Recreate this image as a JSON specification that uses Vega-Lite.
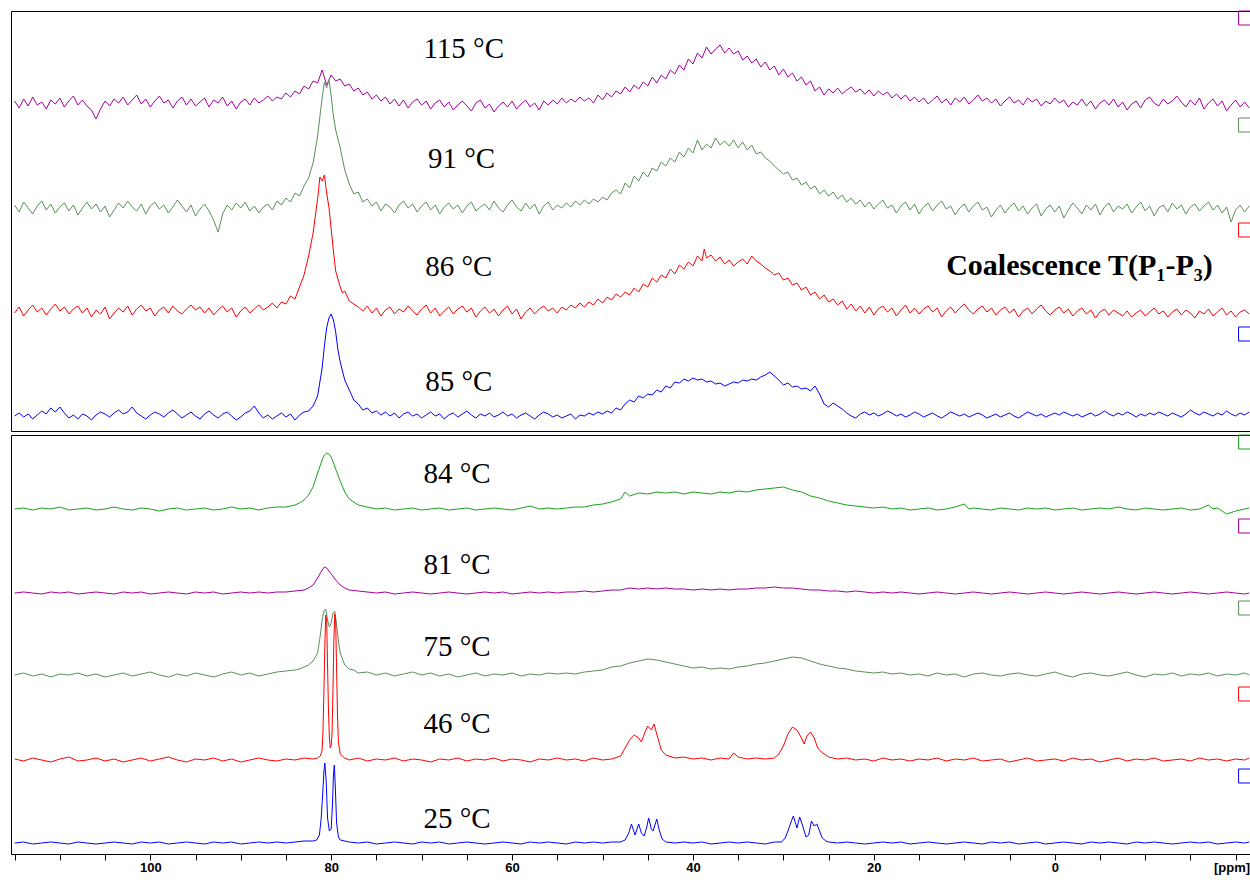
{
"$schema": "https://vega.github.io/schema/vega-lite/v6.json",
"padding": {"left": 10, "top": 8, "right": 0, "bottom": 4},
"spacing": 0,
"background": "white",
"config": {"view": {"stroke": "black", "strokeWidth": 1}},
"datasets": {
"labels": [
{"s":"115","x":69.8,"y":45,"label":"115 °C"},
{"s":"91","x":69.3,"y":40,"label":"91 °C"},
{"s":"86","x":69.6,"y":35,"label":"86 °C"},
{"s":"85","x":69.6,"y":25,"label":"85 °C"},
{"s":"84","x":69.8,"y":26,"label":"84 °C"},
{"s":"81","x":69.8,"y":19,"label":"81 °C"},
{"s":"75","x":69.8,"y":19,"label":"75 °C"},
{"s":"46","x":69.8,"y":27,"label":"46 °C"},
{"s":"25","x":69.8,"y":15,"label":"25 °C"}
],
"notes": [
{"s":"86","x":12.0,"y":36,"label":"Coalescence T(P₁-P₃)"}
],
"boxes": [
{"s":"115","x":-21.1,"y":85},{"s":"91","x":-21.1,"y":83},{"s":"86","x":-21.1,"y":81},{"s":"85","x":-21.1,"y":82},
{"s":"84","x":-21.1,"y":67},{"s":"81","x":-21.1,"y":67},{"s":"75","x":-21.1,"y":67},{"s":"46","x":-21.1,"y":66},{"s":"25","x":-21.1,"y":67}
],
"s115": [
{"x":115,"y":2},{"x":114.5,"y":-5},{"x":114,"y":4},{"x":113.5,"y":-3},{"x":113,"y":6},{"x":112.5,"y":-2},{"x":112,"y":1},{"x":111.5,"y":-6},{"x":111,"y":3},{"x":110.5,"y":-1},
{"x":110,"y":5},{"x":109.5,"y":-4},{"x":109,"y":2},{"x":108.5,"y":7},{"x":108,"y":-2},{"x":107.5,"y":3},{"x":107,"y":-3},{"x":106.5,"y":-7},{"x":106,"y":-16},{"x":105.5,"y":-6},
{"x":105,"y":2},{"x":104.5,"y":-3},{"x":104,"y":4},{"x":103.5,"y":0},{"x":103,"y":6},{"x":102.5,"y":-2},{"x":102,"y":3},{"x":101.5,"y":8},{"x":101,"y":-1},{"x":100.5,"y":4},
{"x":100,"y":-4},{"x":99.5,"y":2},{"x":99,"y":7},{"x":98.5,"y":0},{"x":98,"y":3},{"x":97.5,"y":-5},{"x":97,"y":2},{"x":96.5,"y":6},{"x":96,"y":-2},{"x":95.5,"y":4},
{"x":95,"y":-3},{"x":94.5,"y":1},{"x":94,"y":5},{"x":93.5,"y":-4},{"x":93,"y":3},{"x":92.5,"y":0},{"x":92,"y":6},{"x":91.5,"y":-3},{"x":91,"y":2},{"x":90.5,"y":-6},
{"x":90,"y":1},{"x":89.5,"y":4},{"x":89,"y":-2},{"x":88.5,"y":5},{"x":88,"y":0},{"x":87.5,"y":3},{"x":87,"y":7},{"x":86.5,"y":2},{"x":86,"y":6},{"x":85.5,"y":4},
{"x":85,"y":10},{"x":84.5,"y":6},{"x":84,"y":12},{"x":83.5,"y":9},{"x":83,"y":17},{"x":82.5,"y":14},{"x":82,"y":22},{"x":81.5,"y":20},{"x":81,"y":33},{"x":80.5,"y":18},
{"x":80,"y":28},{"x":79.5,"y":22},{"x":79,"y":24},{"x":78.5,"y":17},{"x":78,"y":19},{"x":77.5,"y":12},{"x":77,"y":15},{"x":76.5,"y":8},{"x":76,"y":11},{"x":75.5,"y":4},
{"x":75,"y":8},{"x":74.5,"y":2},{"x":74,"y":6},{"x":73.5,"y":-1},{"x":73,"y":4},{"x":72.5,"y":-3},{"x":72,"y":3},{"x":71.5,"y":-5},{"x":71,"y":1},{"x":70.5,"y":4},
{"x":70,"y":-2},{"x":69.5,"y":2},{"x":69,"y":-6},{"x":68.5,"y":0},{"x":68,"y":3},{"x":67.5,"y":-4},{"x":67,"y":1},{"x":66.5,"y":-7},{"x":66,"y":-2},{"x":65.5,"y":2},
{"x":65,"y":-3},{"x":64.5,"y":-8},{"x":64,"y":0},{"x":63.5,"y":3},{"x":63,"y":-5},{"x":62.5,"y":-1},{"x":62,"y":-9},{"x":61.5,"y":-3},{"x":61,"y":1},{"x":60.5,"y":-4},
{"x":60,"y":2},{"x":59.5,"y":-6},{"x":59,"y":-1},{"x":58.5,"y":3},{"x":58,"y":-4},{"x":57.5,"y":0},{"x":57,"y":-7},{"x":56.5,"y":2},{"x":56,"y":-2},{"x":55.5,"y":3},
{"x":55,"y":-1},{"x":54.5,"y":5},{"x":54,"y":0},{"x":53.5,"y":4},{"x":53,"y":1},{"x":52.5,"y":6},{"x":52,"y":2},{"x":51.5,"y":5},{"x":51,"y":0},{"x":50.5,"y":8},
{"x":50,"y":3},{"x":49.5,"y":10},{"x":49,"y":6},{"x":48.5,"y":12},{"x":48,"y":9},{"x":47.5,"y":16},{"x":47,"y":11},{"x":46.5,"y":18},{"x":46,"y":14},{"x":45.5,"y":21},
{"x":45,"y":17},{"x":44.5,"y":26},{"x":44,"y":20},{"x":43.5,"y":28},{"x":43,"y":24},{"x":42.5,"y":33},{"x":42,"y":29},{"x":41.5,"y":38},{"x":41,"y":33},{"x":40.5,"y":44},
{"x":40,"y":39},{"x":39.5,"y":50},{"x":39,"y":45},{"x":38.5,"y":56},{"x":38,"y":49},{"x":37.5,"y":54},{"x":37,"y":58},{"x":36.5,"y":50},{"x":36,"y":55},{"x":35.5,"y":49},
{"x":35,"y":52},{"x":34.5,"y":43},{"x":34,"y":47},{"x":33.5,"y":40},{"x":33,"y":44},{"x":32.5,"y":36},{"x":32,"y":41},{"x":31.5,"y":33},{"x":31,"y":37},{"x":30.5,"y":28},
{"x":30,"y":34},{"x":29.5,"y":26},{"x":29,"y":30},{"x":28.5,"y":22},{"x":28,"y":26},{"x":27.5,"y":18},{"x":27,"y":22},{"x":26.5,"y":12},{"x":26,"y":16},{"x":25.5,"y":8},
{"x":25,"y":14},{"x":24.5,"y":10},{"x":24,"y":15},{"x":23.5,"y":9},{"x":23,"y":13},{"x":22.5,"y":16},{"x":22,"y":11},{"x":21.5,"y":14},{"x":21,"y":9},{"x":20.5,"y":13},
{"x":20,"y":7},{"x":19.5,"y":12},{"x":19,"y":8},{"x":18.5,"y":11},{"x":18,"y":5},{"x":17.5,"y":9},{"x":17,"y":4},{"x":16.5,"y":8},{"x":16,"y":2},{"x":15.5,"y":6},
{"x":15,"y":1},{"x":14.5,"y":5},{"x":14,"y":-1},{"x":13.5,"y":3},{"x":13,"y":7},{"x":12.5,"y":0},{"x":12,"y":4},{"x":11.5,"y":-2},{"x":11,"y":5},{"x":10.5,"y":1},
{"x":10,"y":6},{"x":9.5,"y":-1},{"x":9,"y":3},{"x":8.5,"y":8},{"x":8,"y":2},{"x":7.5,"y":5},{"x":7,"y":0},{"x":6.5,"y":4},{"x":6,"y":-3},{"x":5.5,"y":2},
{"x":5,"y":6},{"x":4.5,"y":0},{"x":4,"y":3},{"x":3.5,"y":-2},{"x":3,"y":5},{"x":2.5,"y":1},{"x":2,"y":4},{"x":1.5,"y":-3},{"x":1,"y":2},{"x":0.5,"y":-1},
{"x":0,"y":5},{"x":-0.5,"y":0},{"x":-1,"y":3},{"x":-1.5,"y":-4},{"x":-2,"y":1},{"x":-2.5,"y":-2},{"x":-3,"y":4},{"x":-3.5,"y":-3},{"x":-4,"y":2},{"x":-4.5,"y":-6},
{"x":-5,"y":0},{"x":-5.5,"y":3},{"x":-6,"y":-2},{"x":-6.5,"y":4},{"x":-7,"y":-4},{"x":-7.5,"y":1},{"x":-8,"y":-7},{"x":-8.5,"y":-1},{"x":-9,"y":2},{"x":-9.5,"y":-5},
{"x":-10,"y":3},{"x":-10.5,"y":6},{"x":-11,"y":0},{"x":-11.5,"y":-3},{"x":-12,"y":4},{"x":-12.5,"y":-1},{"x":-13,"y":2},{"x":-13.5,"y":7},{"x":-14,"y":1},{"x":-14.5,"y":-4},
{"x":-15,"y":3},{"x":-15.5,"y":-2},{"x":-16,"y":5},{"x":-16.5,"y":-6},{"x":-17,"y":0},{"x":-17.5,"y":4},{"x":-18,"y":-3},{"x":-18.5,"y":2},{"x":-19,"y":-8},{"x":-19.5,"y":-2},
{"x":-20,"y":3},{"x":-20.5,"y":-4},{"x":-21,"y":1},{"x":-21.5,"y":-5}
],
"s91": [
{"x":115,"y":3},{"x":114.5,"y":-4},{"x":114,"y":6},{"x":113.5,"y":0},{"x":113,"y":-6},{"x":112.5,"y":2},{"x":112,"y":7},{"x":111.5,"y":-2},{"x":111,"y":4},{"x":110.5,"y":-5},
{"x":110,"y":1},{"x":109.5,"y":5},{"x":109,"y":-3},{"x":108.5,"y":3},{"x":108,"y":-7},{"x":107.5,"y":0},{"x":107,"y":6},{"x":106.5,"y":-1},{"x":106,"y":4},{"x":105.5,"y":-4},
{"x":105,"y":2},{"x":104.5,"y":-9},{"x":104,"y":-2},{"x":103.5,"y":5},{"x":103,"y":0},{"x":102.5,"y":7},{"x":102,"y":1},{"x":101.5,"y":-3},{"x":101,"y":4},{"x":100.5,"y":-6},
{"x":100,"y":2},{"x":99.5,"y":6},{"x":99,"y":-1},{"x":98.5,"y":3},{"x":98,"y":-5},{"x":97.5,"y":1},{"x":97,"y":8},{"x":96.5,"y":2},{"x":96,"y":-4},{"x":95.5,"y":3},
{"x":95,"y":-8},{"x":94.5,"y":-1},{"x":94,"y":4},{"x":93.5,"y":-3},{"x":93,"y":-12},{"x":92.5,"y":-24},{"x":92,"y":-6},{"x":91.5,"y":3},{"x":91,"y":-2},{"x":90.5,"y":5},
{"x":90,"y":0},{"x":89.5,"y":6},{"x":89,"y":-3},{"x":88.5,"y":2},{"x":88,"y":-5},{"x":87.5,"y":1},{"x":87,"y":4},{"x":86.5,"y":-2},{"x":86,"y":7},{"x":85.5,"y":3},
{"x":85,"y":10},{"x":84.5,"y":6},{"x":84,"y":15},{"x":83.5,"y":12},{"x":83,"y":22},{"x":82.5,"y":30},{"x":82,"y":45},{"x":81.5,"y":72},{"x":81,"y":110},{"x":80.75,"y":126},
{"x":80.5,"y":120},{"x":80.25,"y":128},{"x":80,"y":112},{"x":79.75,"y":92},{"x":79.5,"y":78},{"x":79,"y":60},{"x":78.5,"y":38},{"x":78,"y":24},{"x":77.5,"y":14},{"x":77,"y":16},
{"x":76.5,"y":6},{"x":76,"y":9},{"x":75.5,"y":2},{"x":75,"y":6},{"x":74.5,"y":-3},{"x":74,"y":4},{"x":73.5,"y":1},{"x":73,"y":-5},{"x":72.5,"y":3},{"x":72,"y":7},
{"x":71.5,"y":0},{"x":71,"y":4},{"x":70.5,"y":-4},{"x":70,"y":2},{"x":69.5,"y":6},{"x":69,"y":-2},{"x":68.5,"y":3},{"x":68,"y":-6},{"x":67.5,"y":1},{"x":67,"y":5},
{"x":66.5,"y":-1},{"x":66,"y":3},{"x":65.5,"y":-5},{"x":65,"y":2},{"x":64.5,"y":6},{"x":64,"y":-3},{"x":63.5,"y":1},{"x":63,"y":4},{"x":62.5,"y":-2},{"x":62,"y":7},
{"x":61.5,"y":0},{"x":61,"y":-4},{"x":60.5,"y":3},{"x":60,"y":8},{"x":59.5,"y":1},{"x":59,"y":-3},{"x":58.5,"y":5},{"x":58,"y":-1},{"x":57.5,"y":4},{"x":57,"y":-6},
{"x":56.5,"y":2},{"x":56,"y":6},{"x":55.5,"y":-2},{"x":55,"y":3},{"x":54.5,"y":0},{"x":54,"y":5},{"x":53.5,"y":1},{"x":53,"y":7},{"x":52.5,"y":3},{"x":52,"y":8},
{"x":51.5,"y":4},{"x":51,"y":9},{"x":50.5,"y":6},{"x":50,"y":11},{"x":49.5,"y":8},{"x":49,"y":15},{"x":48.5,"y":18},{"x":48,"y":14},{"x":47.5,"y":25},{"x":47,"y":20},
{"x":46.5,"y":32},{"x":46,"y":27},{"x":45.5,"y":36},{"x":45,"y":31},{"x":44.5,"y":40},{"x":44,"y":37},{"x":43.5,"y":46},{"x":43,"y":42},{"x":42.5,"y":50},{"x":42,"y":46},
{"x":41.5,"y":56},{"x":41,"y":51},{"x":40.5,"y":60},{"x":40,"y":55},{"x":39.5,"y":68},{"x":39,"y":58},{"x":38.5,"y":64},{"x":38,"y":60},{"x":37.5,"y":70},{"x":37,"y":63},
{"x":36.5,"y":67},{"x":36,"y":62},{"x":35.5,"y":68},{"x":35,"y":60},{"x":34.5,"y":66},{"x":34,"y":58},{"x":33.5,"y":63},{"x":33,"y":54},{"x":32.5,"y":56},{"x":32,"y":50},
{"x":31.5,"y":47},{"x":31,"y":42},{"x":30.5,"y":38},{"x":30,"y":34},{"x":29.5,"y":36},{"x":29,"y":28},{"x":28.5,"y":30},{"x":28,"y":23},{"x":27.5,"y":26},{"x":27,"y":19},
{"x":26.5,"y":22},{"x":26,"y":14},{"x":25.5,"y":18},{"x":25,"y":12},{"x":24.5,"y":16},{"x":24,"y":9},{"x":23.5,"y":13},{"x":23,"y":6},{"x":22.5,"y":10},{"x":22,"y":4},
{"x":21.5,"y":8},{"x":21,"y":1},{"x":20.5,"y":6},{"x":20,"y":-1},{"x":19.5,"y":4},{"x":19,"y":8},{"x":18.5,"y":0},{"x":18,"y":3},{"x":17.5,"y":-5},{"x":17,"y":2},
{"x":16.5,"y":6},{"x":16,"y":-2},{"x":15.5,"y":4},{"x":15,"y":-6},{"x":14.5,"y":1},{"x":14,"y":5},{"x":13.5,"y":-3},{"x":13,"y":3},{"x":12.5,"y":7},{"x":12,"y":-1},
{"x":11.5,"y":2},{"x":11,"y":-7},{"x":10.5,"y":0},{"x":10,"y":4},{"x":9.5,"y":-4},{"x":9,"y":2},{"x":8.5,"y":6},{"x":8,"y":-2},{"x":7.5,"y":1},{"x":7,"y":-9},
{"x":6.5,"y":-2},{"x":6,"y":3},{"x":5.5,"y":-5},{"x":5,"y":1},{"x":4.5,"y":5},{"x":4,"y":-3},{"x":3.5,"y":2},{"x":3,"y":-6},{"x":2.5,"y":0},{"x":2,"y":4},
{"x":1.5,"y":-8},{"x":1,"y":-1},{"x":0.5,"y":3},{"x":0,"y":-4},{"x":-0.5,"y":2},{"x":-1,"y":-10},{"x":-1.5,"y":-2},{"x":-2,"y":5},{"x":-2.5,"y":0},{"x":-3,"y":-6},
{"x":-3.5,"y":3},{"x":-4,"y":-2},{"x":-4.5,"y":4},{"x":-5,"y":-7},{"x":-5.5,"y":1},{"x":-6,"y":5},{"x":-6.5,"y":-4},{"x":-7,"y":2},{"x":-7.5,"y":-1},{"x":-8,"y":4},
{"x":-8.5,"y":-5},{"x":-9,"y":1},{"x":-9.5,"y":6},{"x":-10,"y":-3},{"x":-10.5,"y":2},{"x":-11,"y":-8},{"x":-11.5,"y":0},{"x":-12,"y":3},{"x":-12.5,"y":-4},{"x":-13,"y":5},
{"x":-13.5,"y":-1},{"x":-14,"y":3},{"x":-14.5,"y":-6},{"x":-15,"y":1},{"x":-15.5,"y":4},{"x":-16,"y":-3},{"x":-16.5,"y":2},{"x":-17,"y":6},{"x":-17.5,"y":-2},{"x":-18,"y":3},
{"x":-18.5,"y":-5},{"x":-19,"y":1},{"x":-19.5,"y":-14},{"x":-20,"y":-2},{"x":-20.5,"y":3},{"x":-21,"y":-4},{"x":-21.5,"y":2}
],
"s86": [
{"x":115,"y":-2},{"x":114.5,"y":4},{"x":114,"y":-5},{"x":113.5,"y":1},{"x":113,"y":6},{"x":112.5,"y":-1},{"x":112,"y":3},{"x":111.5,"y":-4},{"x":111,"y":2},{"x":110.5,"y":7},
{"x":110,"y":0},{"x":109.5,"y":4},{"x":109,"y":-3},{"x":108.5,"y":2},{"x":108,"y":5},{"x":107.5,"y":-2},{"x":107,"y":3},{"x":106.5,"y":-6},{"x":106,"y":1},{"x":105.5,"y":-3},
{"x":105,"y":4},{"x":104.5,"y":-8},{"x":104,"y":-2},{"x":103.5,"y":3},{"x":103,"y":-1},{"x":102.5,"y":5},{"x":102,"y":-4},{"x":101.5,"y":2},{"x":101,"y":6},{"x":100.5,"y":0},
{"x":100,"y":3},{"x":99.5,"y":-5},{"x":99,"y":1},{"x":98.5,"y":4},{"x":98,"y":-2},{"x":97.5,"y":5},{"x":97,"y":0},{"x":96.5,"y":-3},{"x":96,"y":2},{"x":95.5,"y":6},
{"x":95,"y":1},{"x":94.5,"y":4},{"x":94,"y":-2},{"x":93.5,"y":3},{"x":93,"y":-4},{"x":92.5,"y":1},{"x":92,"y":5},{"x":91.5,"y":-1},{"x":91,"y":3},{"x":90.5,"y":-6},
{"x":90,"y":0},{"x":89.5,"y":4},{"x":89,"y":-2},{"x":88.5,"y":2},{"x":88,"y":6},{"x":87.5,"y":1},{"x":87,"y":4},{"x":86.5,"y":8},{"x":86,"y":3},{"x":85.5,"y":9},
{"x":85,"y":7},{"x":84.5,"y":15},{"x":84,"y":12},{"x":83.5,"y":24},{"x":83,"y":36},{"x":82.5,"y":55},{"x":82,"y":78},{"x":81.5,"y":112},{"x":81.25,"y":134},{"x":81,"y":130},
{"x":80.75,"y":136},{"x":80.5,"y":118},{"x":80.25,"y":104},{"x":80,"y":82},{"x":79.75,"y":60},{"x":79.5,"y":40},{"x":79,"y":24},{"x":78.75,"y":18},{"x":78.5,"y":20},{"x":78,"y":10},
{"x":77.5,"y":7},{"x":77,"y":4},{"x":76.5,"y":0},{"x":76,"y":5},{"x":75.5,"y":-2},{"x":75,"y":3},{"x":74.5,"y":-5},{"x":74,"y":1},{"x":73.5,"y":4},{"x":73,"y":-3},
{"x":72.5,"y":2},{"x":72,"y":-1},{"x":71.5,"y":5},{"x":71,"y":0},{"x":70.5,"y":-4},{"x":70,"y":2},{"x":69.5,"y":6},{"x":69,"y":-2},{"x":68.5,"y":3},{"x":68,"y":-5},
{"x":67.5,"y":0},{"x":67,"y":4},{"x":66.5,"y":-3},{"x":66,"y":2},{"x":65.5,"y":5},{"x":65,"y":-1},{"x":64.5,"y":3},{"x":64,"y":-6},{"x":63.5,"y":0},{"x":63,"y":4},
{"x":62.5,"y":-2},{"x":62,"y":2},{"x":61.5,"y":-5},{"x":61,"y":1},{"x":60.5,"y":5},{"x":60,"y":-3},{"x":59.5,"y":2},{"x":59,"y":-8},{"x":58.5,"y":-1},{"x":58,"y":3},
{"x":57.5,"y":-3},{"x":57,"y":2},{"x":56.5,"y":5},{"x":56,"y":0},{"x":55.5,"y":3},{"x":55,"y":-2},{"x":54.5,"y":4},{"x":54,"y":1},{"x":53.5,"y":6},{"x":53,"y":3},
{"x":52.5,"y":8},{"x":52,"y":4},{"x":51.5,"y":9},{"x":51,"y":6},{"x":50.5,"y":12},{"x":50,"y":8},{"x":49.5,"y":14},{"x":49,"y":11},{"x":48.5,"y":17},{"x":48,"y":14},
{"x":47.5,"y":19},{"x":47,"y":16},{"x":46.5,"y":23},{"x":46,"y":19},{"x":45.5,"y":27},{"x":45,"y":24},{"x":44.5,"y":33},{"x":44,"y":29},{"x":43.5,"y":36},{"x":43,"y":33},
{"x":42.5,"y":42},{"x":42,"y":37},{"x":41.5,"y":46},{"x":41,"y":42},{"x":40.5,"y":49},{"x":40,"y":45},{"x":39.5,"y":55},{"x":39,"y":50},{"x":38.75,"y":62},{"x":38.5,"y":53},
{"x":38,"y":56},{"x":37.5,"y":50},{"x":37,"y":54},{"x":36.5,"y":47},{"x":36,"y":51},{"x":35.5,"y":45},{"x":35,"y":49},{"x":34.5,"y":52},{"x":34,"y":47},{"x":33.5,"y":55},
{"x":33,"y":50},{"x":32.5,"y":47},{"x":32,"y":43},{"x":31.5,"y":40},{"x":31,"y":36},{"x":30.5,"y":38},{"x":30,"y":31},{"x":29.5,"y":33},{"x":29,"y":26},{"x":28.5,"y":28},
{"x":28,"y":21},{"x":27.5,"y":24},{"x":27,"y":16},{"x":26.5,"y":19},{"x":26,"y":12},{"x":25.5,"y":16},{"x":25,"y":9},{"x":24.5,"y":12},{"x":24,"y":6},{"x":23.5,"y":10},
{"x":23,"y":2},{"x":22.5,"y":7},{"x":22,"y":0},{"x":21.5,"y":5},{"x":21,"y":-2},{"x":20.5,"y":4},{"x":20,"y":-4},{"x":19.5,"y":2},{"x":19,"y":5},{"x":18.5,"y":-1},
{"x":18,"y":3},{"x":17.5,"y":-5},{"x":17,"y":1},{"x":16.5,"y":6},{"x":16,"y":-2},{"x":15.5,"y":3},{"x":15,"y":-3},{"x":14.5,"y":2},{"x":14,"y":5},{"x":13.5,"y":-1},
{"x":13,"y":3},{"x":12.5,"y":-6},{"x":12,"y":0},{"x":11.5,"y":4},{"x":11,"y":-2},{"x":10.5,"y":3},{"x":10,"y":7},{"x":9.5,"y":1},{"x":9,"y":-3},{"x":8.5,"y":2},
{"x":8,"y":5},{"x":7.5,"y":-1},{"x":7,"y":3},{"x":6.5,"y":-4},{"x":6,"y":1},{"x":5.5,"y":4},{"x":5,"y":-2},{"x":4.5,"y":2},{"x":4,"y":-6},{"x":3.5,"y":0},
{"x":3,"y":3},{"x":2.5,"y":-3},{"x":2,"y":2},{"x":1.5,"y":6},{"x":1,"y":0},{"x":0.5,"y":-4},{"x":0,"y":1},{"x":-0.5,"y":4},{"x":-1,"y":-2},{"x":-1.5,"y":2},
{"x":-2,"y":-5},{"x":-2.5,"y":0},{"x":-3,"y":3},{"x":-3.5,"y":-3},{"x":-4,"y":1},{"x":-4.5,"y":-7},{"x":-5,"y":-1},{"x":-5.5,"y":2},{"x":-6,"y":-4},{"x":-6.5,"y":1},
{"x":-7,"y":-2},{"x":-7.5,"y":-5},{"x":-8,"y":0},{"x":-8.5,"y":-6},{"x":-9,"y":-2},{"x":-9.5,"y":1},{"x":-10,"y":-5},{"x":-10.5,"y":-1},{"x":-11,"y":3},{"x":-11.5,"y":-3},
{"x":-12,"y":0},{"x":-12.5,"y":-6},{"x":-13,"y":-1},{"x":-13.5,"y":2},{"x":-14,"y":-4},{"x":-14.5,"y":1},{"x":-15,"y":-2},{"x":-15.5,"y":-7},{"x":-16,"y":0},{"x":-16.5,"y":-3},
{"x":-17,"y":2},{"x":-17.5,"y":-5},{"x":-18,"y":-1},{"x":-18.5,"y":3},{"x":-19,"y":-4},{"x":-19.5,"y":0},{"x":-20,"y":-6},{"x":-20.5,"y":-1},{"x":-21,"y":1},{"x":-21.5,"y":-3}
],
"s85": [
{"x":115,"y":0},{"x":114.5,"y":3},{"x":114,"y":-1},{"x":113.5,"y":2},{"x":113,"y":-3},{"x":112.5,"y":1},{"x":112,"y":5},{"x":111.5,"y":2},{"x":111,"y":8},{"x":110.5,"y":4},
{"x":110,"y":9},{"x":109.5,"y":3},{"x":109,"y":-2},{"x":108.5,"y":1},{"x":108,"y":-3},{"x":107.5,"y":2},{"x":107,"y":0},{"x":106.5,"y":-4},{"x":106,"y":1},{"x":105.5,"y":4},
{"x":105,"y":2},{"x":104.5,"y":-1},{"x":104,"y":3},{"x":103.5,"y":6},{"x":103,"y":2},{"x":102.5,"y":4},{"x":102,"y":9},{"x":101.5,"y":3},{"x":101,"y":0},{"x":100.5,"y":-3},
{"x":100,"y":1},{"x":99.5,"y":4},{"x":99,"y":2},{"x":98.5,"y":-1},{"x":98,"y":3},{"x":97.5,"y":6},{"x":97,"y":2},{"x":96.5,"y":-2},{"x":96,"y":1},{"x":95.5,"y":4},
{"x":95,"y":0},{"x":94.5,"y":-3},{"x":94,"y":2},{"x":93.5,"y":5},{"x":93,"y":1},{"x":92.5,"y":-2},{"x":92,"y":2},{"x":91.5,"y":4},{"x":91,"y":0},{"x":90.5,"y":-4},
{"x":90,"y":-1},{"x":89.5,"y":3},{"x":89,"y":5},{"x":88.5,"y":10},{"x":88,"y":3},{"x":87.5,"y":-2},{"x":87,"y":1},{"x":86.5,"y":-3},{"x":86,"y":0},{"x":85.5,"y":3},
{"x":85,"y":-1},{"x":84.5,"y":2},{"x":84,"y":-4},{"x":83.5,"y":1},{"x":83,"y":4},{"x":82.5,"y":5},{"x":82,"y":10},{"x":81.5,"y":20},{"x":81,"y":48},{"x":80.75,"y":70},
{"x":80.5,"y":88},{"x":80.25,"y":98},{"x":80,"y":102},{"x":79.75,"y":96},{"x":79.5,"y":84},{"x":79.25,"y":66},{"x":79,"y":54},{"x":78.5,"y":36},{"x":78,"y":26},{"x":77.5,"y":16},
{"x":77,"y":12},{"x":76.5,"y":6},{"x":76,"y":8},{"x":75.5,"y":3},{"x":75,"y":5},{"x":74.5,"y":1},{"x":74,"y":4},{"x":73.5,"y":0},{"x":73,"y":3},{"x":72.5,"y":-2},
{"x":72,"y":2},{"x":71.5,"y":4},{"x":71,"y":0},{"x":70.5,"y":2},{"x":70,"y":-2},{"x":69.5,"y":1},{"x":69,"y":4},{"x":68.5,"y":0},{"x":68,"y":2},{"x":67.5,"y":-3},
{"x":67,"y":1},{"x":66.5,"y":3},{"x":66,"y":-1},{"x":65.5,"y":2},{"x":65,"y":5},{"x":64.5,"y":1},{"x":64,"y":-2},{"x":63.5,"y":2},{"x":63,"y":0},{"x":62.5,"y":3},
{"x":62,"y":-1},{"x":61.5,"y":1},{"x":61,"y":4},{"x":60.5,"y":0},{"x":60,"y":2},{"x":59.5,"y":-2},{"x":59,"y":1},{"x":58.5,"y":3},{"x":58,"y":0},{"x":57.5,"y":-3},
{"x":57,"y":1},{"x":56.5,"y":4},{"x":56,"y":2},{"x":55.5,"y":-1},{"x":55,"y":1},{"x":54.5,"y":-2},{"x":54,"y":0},{"x":53.5,"y":2},{"x":53,"y":-3},{"x":52.5,"y":1},
{"x":52,"y":0},{"x":51.5,"y":3},{"x":51,"y":1},{"x":50.5,"y":4},{"x":50,"y":2},{"x":49.5,"y":5},{"x":49,"y":3},{"x":48.5,"y":8},{"x":48,"y":6},{"x":47.5,"y":12},
{"x":47,"y":16},{"x":46.5,"y":14},{"x":46,"y":20},{"x":45.5,"y":18},{"x":45,"y":22},{"x":44.5,"y":21},{"x":44,"y":26},{"x":43.5,"y":24},{"x":43,"y":30},{"x":42.5,"y":28},
{"x":42,"y":34},{"x":41.5,"y":33},{"x":41,"y":37},{"x":40.5,"y":35},{"x":40,"y":38},{"x":39.5,"y":36},{"x":39,"y":37},{"x":38.5,"y":34},{"x":38,"y":35},{"x":37.5,"y":32},
{"x":37,"y":33},{"x":36.5,"y":30},{"x":36,"y":32},{"x":35.5,"y":34},{"x":35,"y":33},{"x":34.5,"y":36},{"x":34,"y":35},{"x":33.5,"y":37},{"x":33,"y":36},{"x":32.5,"y":39},
{"x":32,"y":41},{"x":31.5,"y":44},{"x":31,"y":40},{"x":30.5,"y":36},{"x":30,"y":31},{"x":29.5,"y":33},{"x":29,"y":29},{"x":28.5,"y":30},{"x":28,"y":27},{"x":27.5,"y":28},
{"x":27,"y":25},{"x":26.5,"y":30},{"x":26,"y":22},{"x":25.5,"y":12},{"x":25,"y":9},{"x":24.5,"y":13},{"x":24,"y":10},{"x":23.5,"y":7},{"x":23,"y":3},{"x":22.5,"y":0},
{"x":22,"y":-2},{"x":21.5,"y":2},{"x":21,"y":4},{"x":20.5,"y":1},{"x":20,"y":3},{"x":19.5,"y":0},{"x":19,"y":2},{"x":18.5,"y":5},{"x":18,"y":3},{"x":17.5,"y":0},
{"x":17,"y":2},{"x":16.5,"y":-1},{"x":16,"y":1},{"x":15.5,"y":4},{"x":15,"y":2},{"x":14.5,"y":-1},{"x":14,"y":1},{"x":13.5,"y":3},{"x":13,"y":0},{"x":12.5,"y":-2},
{"x":12,"y":1},{"x":11.5,"y":4},{"x":11,"y":2},{"x":10.5,"y":0},{"x":10,"y":2},{"x":9.5,"y":-1},{"x":9,"y":1},{"x":8.5,"y":3},{"x":8,"y":1},{"x":7.5,"y":-2},
{"x":7,"y":0},{"x":6.5,"y":2},{"x":6,"y":-1},{"x":5.5,"y":1},{"x":5,"y":3},{"x":4.5,"y":0},{"x":4,"y":-2},{"x":3.5,"y":1},{"x":3,"y":4},{"x":2.5,"y":2},
{"x":2,"y":0},{"x":1.5,"y":2},{"x":1,"y":-1},{"x":0.5,"y":1},{"x":0,"y":3},{"x":-0.5,"y":1},{"x":-1,"y":4},{"x":-1.5,"y":2},{"x":-2,"y":0},{"x":-2.5,"y":2},
{"x":-3,"y":-1},{"x":-3.5,"y":1},{"x":-4,"y":3},{"x":-4.5,"y":0},{"x":-5,"y":2},{"x":-5.5,"y":5},{"x":-6,"y":2},{"x":-6.5,"y":0},{"x":-7,"y":3},{"x":-7.5,"y":1},
{"x":-8,"y":4},{"x":-8.5,"y":2},{"x":-9,"y":-1},{"x":-9.5,"y":2},{"x":-10,"y":0},{"x":-10.5,"y":3},{"x":-11,"y":1},{"x":-11.5,"y":4},{"x":-12,"y":2},{"x":-12.5,"y":0},
{"x":-13,"y":3},{"x":-13.5,"y":1},{"x":-14,"y":-1},{"x":-14.5,"y":2},{"x":-15,"y":6},{"x":-15.5,"y":3},{"x":-16,"y":1},{"x":-16.5,"y":4},{"x":-17,"y":2},{"x":-17.5,"y":0},
{"x":-18,"y":3},{"x":-18.5,"y":1},{"x":-19,"y":5},{"x":-19.5,"y":2},{"x":-20,"y":0},{"x":-20.5,"y":3},{"x":-21,"y":1},{"x":-21.5,"y":4}
],
"s84": [
{"x":115,"y":0},{"x":114,"y":1},{"x":113,"y":-1},{"x":112,"y":1},{"x":111,"y":0},{"x":110,"y":2},{"x":109,"y":-1},{"x":108,"y":0},{"x":107,"y":1},{"x":106,"y":-1},
{"x":105,"y":0},{"x":104,"y":2},{"x":103,"y":0},{"x":102,"y":-1},{"x":101,"y":1},{"x":100,"y":0},{"x":99,"y":-2},{"x":98,"y":0},{"x":97,"y":1},{"x":96,"y":-1},
{"x":95,"y":0},{"x":94,"y":1},{"x":93,"y":-1},{"x":92,"y":0},{"x":91,"y":2},{"x":90,"y":0},{"x":89,"y":1},{"x":88,"y":-1},{"x":87,"y":1},{"x":86,"y":2},
{"x":85,"y":2},{"x":84,"y":4},{"x":83.5,"y":6},{"x":83,"y":9},{"x":82.5,"y":14},{"x":82,"y":22},{"x":81.5,"y":36},{"x":81,"y":49},{"x":80.75,"y":54},{"x":80.5,"y":56},
{"x":80.25,"y":55},{"x":80,"y":52},{"x":79.75,"y":46},{"x":79.5,"y":40},{"x":79,"y":28},{"x":78.5,"y":17},{"x":78,"y":10},{"x":77.5,"y":7},{"x":77,"y":4},{"x":76,"y":2},
{"x":75,"y":0},{"x":74,"y":1},{"x":73,"y":-1},{"x":72,"y":0},{"x":71,"y":1},{"x":70,"y":-1},{"x":69,"y":0},{"x":68,"y":1},{"x":67,"y":-1},{"x":66,"y":0},
{"x":65,"y":1},{"x":64,"y":-1},{"x":63,"y":0},{"x":62,"y":1},{"x":61,"y":0},{"x":60,"y":-1},{"x":59,"y":1},{"x":58,"y":3},{"x":57,"y":0},{"x":56,"y":1},
{"x":55,"y":0},{"x":54,"y":1},{"x":53,"y":2},{"x":52,"y":2},{"x":51,"y":4},{"x":50,"y":5},{"x":49,"y":7},{"x":48,"y":10},{"x":47.5,"y":17},{"x":47,"y":13},
{"x":46,"y":16},{"x":45,"y":15},{"x":44,"y":17},{"x":43,"y":16},{"x":42,"y":17},{"x":41,"y":15},{"x":40,"y":17},{"x":39,"y":16},{"x":38,"y":15},{"x":37,"y":17},
{"x":36,"y":16},{"x":35,"y":18},{"x":34,"y":17},{"x":33,"y":19},{"x":32,"y":20},{"x":31,"y":21},{"x":30,"y":22},{"x":29,"y":19},{"x":28,"y":17},{"x":27,"y":13},
{"x":26,"y":11},{"x":25,"y":8},{"x":24,"y":6},{"x":23,"y":4},{"x":22,"y":3},{"x":21,"y":2},{"x":20,"y":1},{"x":19,"y":2},{"x":18,"y":0},{"x":17,"y":1},
{"x":16,"y":-1},{"x":15,"y":0},{"x":14,"y":1},{"x":13,"y":-1},{"x":12,"y":0},{"x":11,"y":2},{"x":10,"y":5},{"x":9.5,"y":0},{"x":9,"y":1},{"x":8,"y":0},
{"x":7,"y":-1},{"x":6,"y":1},{"x":5,"y":0},{"x":4,"y":-1},{"x":3,"y":1},{"x":2,"y":0},{"x":1,"y":1},{"x":0,"y":-1},{"x":-1,"y":0},{"x":-2,"y":1},
{"x":-3,"y":-1},{"x":-4,"y":0},{"x":-5,"y":1},{"x":-6,"y":0},{"x":-7,"y":2},{"x":-8,"y":0},{"x":-9,"y":-1},{"x":-10,"y":1},{"x":-11,"y":0},{"x":-12,"y":-1},
{"x":-13,"y":0},{"x":-14,"y":1},{"x":-15,"y":-1},{"x":-16,"y":0},{"x":-17,"y":4},{"x":-17.5,"y":0},{"x":-18,"y":1},{"x":-19,"y":-5},{"x":-20,"y":-2},{"x":-21,"y":0},{"x":-21.5,"y":1}
],
"s81": [
{"x":115,"y":0},{"x":114,"y":1},{"x":113,"y":0},{"x":112,"y":-1},{"x":111,"y":1},{"x":110,"y":0},{"x":109,"y":1},{"x":108,"y":-1},{"x":107,"y":0},{"x":106,"y":1},
{"x":105,"y":0},{"x":104,"y":-1},{"x":103,"y":1},{"x":102,"y":0},{"x":101,"y":1},{"x":100,"y":-1},{"x":99,"y":0},{"x":98,"y":1},{"x":97,"y":0},{"x":96,"y":-1},
{"x":95,"y":1},{"x":94,"y":0},{"x":93,"y":1},{"x":92,"y":-1},{"x":91,"y":0},{"x":90,"y":1},{"x":89,"y":0},{"x":88,"y":1},{"x":87,"y":0},{"x":86,"y":1},
{"x":85,"y":1},{"x":84,"y":2},{"x":83,"y":3},{"x":82.5,"y":5},{"x":82,"y":8},{"x":81.5,"y":15},{"x":81,"y":23},{"x":80.75,"y":26},{"x":80.5,"y":25},{"x":80.25,"y":22},
{"x":80,"y":19},{"x":79.5,"y":13},{"x":79,"y":8},{"x":78.5,"y":5},{"x":78,"y":3},{"x":77,"y":2},{"x":76,"y":1},{"x":75,"y":0},{"x":74,"y":1},{"x":73,"y":-1},
{"x":72,"y":0},{"x":71,"y":1},{"x":70,"y":0},{"x":69,"y":-1},{"x":68,"y":0},{"x":67,"y":1},{"x":66,"y":0},{"x":65,"y":-1},{"x":64,"y":0},{"x":63,"y":1},
{"x":62,"y":0},{"x":61,"y":1},{"x":60,"y":-1},{"x":59,"y":0},{"x":58,"y":1},{"x":57,"y":0},{"x":56,"y":1},{"x":55,"y":0},{"x":54,"y":1},{"x":53,"y":1},
{"x":52,"y":2},{"x":51,"y":1},{"x":50,"y":2},{"x":49,"y":3},{"x":48,"y":3},{"x":47,"y":5},{"x":46,"y":4},{"x":45,"y":5},{"x":44,"y":4},{"x":43,"y":5},
{"x":42,"y":4},{"x":41,"y":4},{"x":40,"y":3},{"x":39,"y":4},{"x":38,"y":3},{"x":37,"y":4},{"x":36,"y":3},{"x":35,"y":4},{"x":34,"y":4},{"x":33,"y":5},
{"x":32,"y":5},{"x":31,"y":6},{"x":30,"y":5},{"x":29,"y":5},{"x":28,"y":4},{"x":27,"y":3},{"x":26,"y":3},{"x":25,"y":2},{"x":24,"y":2},{"x":23,"y":1},
{"x":22,"y":2},{"x":21,"y":1},{"x":20,"y":0},{"x":19,"y":1},{"x":18,"y":0},{"x":17,"y":1},{"x":16,"y":0},{"x":15,"y":-1},{"x":14,"y":0},{"x":13,"y":1},
{"x":12,"y":0},{"x":11,"y":-1},{"x":10,"y":0},{"x":9,"y":1},{"x":8,"y":0},{"x":7,"y":-1},{"x":6,"y":0},{"x":5,"y":1},{"x":4,"y":0},{"x":3,"y":-1},
{"x":2,"y":0},{"x":1,"y":1},{"x":0,"y":0},{"x":-1,"y":-1},{"x":-2,"y":0},{"x":-3,"y":1},{"x":-4,"y":0},{"x":-5,"y":-1},{"x":-6,"y":0},{"x":-7,"y":1},
{"x":-8,"y":0},{"x":-9,"y":-1},{"x":-10,"y":0},{"x":-11,"y":1},{"x":-12,"y":0},{"x":-13,"y":-1},{"x":-14,"y":0},{"x":-15,"y":1},{"x":-16,"y":0},{"x":-17,"y":-1},
{"x":-18,"y":0},{"x":-19,"y":1},{"x":-20,"y":0},{"x":-21,"y":-1},{"x":-21.5,"y":0}
],
"s75": [
{"x":115,"y":0},{"x":114,"y":2},{"x":113,"y":-1},{"x":112,"y":1},{"x":111,"y":-2},{"x":110,"y":1},{"x":109,"y":0},{"x":108,"y":2},{"x":107,"y":-1},{"x":106,"y":1},
{"x":105,"y":-2},{"x":104,"y":0},{"x":103,"y":2},{"x":102,"y":-1},{"x":101,"y":1},{"x":100,"y":3},{"x":99,"y":0},{"x":98,"y":-2},{"x":97,"y":1},{"x":96,"y":-1},
{"x":95,"y":2},{"x":94,"y":0},{"x":93,"y":-2},{"x":92,"y":1},{"x":91,"y":3},{"x":90,"y":0},{"x":89,"y":2},{"x":88,"y":-1},{"x":87,"y":1},{"x":86,"y":3},
{"x":85,"y":4},{"x":84,"y":5},{"x":83.5,"y":6},{"x":83,"y":8},{"x":82.5,"y":10},{"x":82,"y":14},{"x":81.5,"y":22},{"x":81.2,"y":40},{"x":81,"y":55},{"x":80.8,"y":64},
{"x":80.6,"y":66},{"x":80.4,"y":55},{"x":80.2,"y":48},{"x":80,"y":52},{"x":79.8,"y":62},{"x":79.6,"y":64},{"x":79.4,"y":50},{"x":79.2,"y":34},{"x":79,"y":22},{"x":78.5,"y":10},
{"x":78,"y":6},{"x":77.5,"y":5},{"x":77,"y":2},{"x":76,"y":3},{"x":75,"y":0},{"x":74,"y":2},{"x":73,"y":-1},{"x":72,"y":1},{"x":71,"y":3},{"x":70,"y":0},
{"x":69,"y":2},{"x":68,"y":-1},{"x":67,"y":1},{"x":66,"y":-2},{"x":65,"y":0},{"x":64,"y":2},{"x":63,"y":-1},{"x":62,"y":1},{"x":61,"y":0},{"x":60,"y":2},
{"x":59,"y":-1},{"x":58,"y":1},{"x":57,"y":0},{"x":56,"y":2},{"x":55,"y":1},{"x":54,"y":2},{"x":53,"y":1},{"x":52,"y":3},{"x":51,"y":4},{"x":50,"y":5},
{"x":49,"y":8},{"x":48,"y":9},{"x":47,"y":12},{"x":46,"y":14},{"x":45,"y":16},{"x":44,"y":15},{"x":43,"y":13},{"x":42,"y":11},{"x":41,"y":9},{"x":40,"y":7},
{"x":39,"y":8},{"x":38,"y":6},{"x":37,"y":7},{"x":36,"y":6},{"x":35,"y":8},{"x":34,"y":9},{"x":33,"y":11},{"x":32,"y":12},{"x":31,"y":14},{"x":30,"y":16},
{"x":29,"y":18},{"x":28,"y":17},{"x":27,"y":14},{"x":26,"y":11},{"x":25,"y":9},{"x":24,"y":7},{"x":23,"y":6},{"x":22,"y":4},{"x":21,"y":3},{"x":20,"y":2},
{"x":19,"y":3},{"x":18,"y":1},{"x":17,"y":2},{"x":16,"y":0},{"x":15,"y":1},{"x":14,"y":-1},{"x":13,"y":2},{"x":12,"y":0},{"x":11,"y":1},{"x":10,"y":-2},
{"x":9,"y":1},{"x":8,"y":2},{"x":7,"y":0},{"x":6,"y":-1},{"x":5,"y":1},{"x":4,"y":2},{"x":3,"y":0},{"x":2,"y":-1},{"x":1,"y":1},{"x":0,"y":3},
{"x":-1,"y":0},{"x":-2,"y":-2},{"x":-3,"y":1},{"x":-4,"y":2},{"x":-5,"y":0},{"x":-6,"y":-1},{"x":-7,"y":1},{"x":-8,"y":3},{"x":-9,"y":0},{"x":-10,"y":-2},
{"x":-11,"y":1},{"x":-12,"y":0},{"x":-13,"y":2},{"x":-14,"y":-1},{"x":-15,"y":1},{"x":-16,"y":0},{"x":-17,"y":2},{"x":-18,"y":-1},{"x":-19,"y":1},{"x":-20,"y":0},
{"x":-21,"y":2},{"x":-21.5,"y":0}
],
"s46": [
{"x":115,"y":1},{"x":114,"y":-1},{"x":113,"y":2},{"x":112,"y":0},{"x":111,"y":-2},{"x":110,"y":1},{"x":109,"y":3},{"x":108,"y":-1},{"x":107,"y":0},{"x":106,"y":2},
{"x":105,"y":-1},{"x":104,"y":1},{"x":103,"y":-2},{"x":102,"y":0},{"x":101,"y":2},{"x":100,"y":-1},{"x":99,"y":1},{"x":98,"y":3},{"x":97,"y":0},{"x":96,"y":-2},
{"x":95,"y":1},{"x":94,"y":0},{"x":93,"y":2},{"x":92,"y":-1},{"x":91,"y":1},{"x":90,"y":-2},{"x":89,"y":0},{"x":88,"y":2},{"x":87,"y":0},{"x":86,"y":-1},
{"x":85,"y":1},{"x":84,"y":0},{"x":83,"y":2},{"x":82,"y":1},{"x":81.5,"y":2},{"x":81.2,"y":4},{"x":81,"y":10},{"x":80.9,"y":30},{"x":80.8,"y":70},{"x":80.7,"y":115},
{"x":80.6,"y":145},{"x":80.5,"y":140},{"x":80.4,"y":95},{"x":80.3,"y":50},{"x":80.2,"y":22},{"x":80.1,"y":12},{"x":80,"y":14},{"x":79.9,"y":28},{"x":79.8,"y":70},{"x":79.7,"y":120},
{"x":79.6,"y":146},{"x":79.5,"y":138},{"x":79.4,"y":90},{"x":79.3,"y":45},{"x":79.2,"y":18},{"x":79,"y":6},{"x":78.5,"y":2},{"x":78,"y":0},{"x":77,"y":2},{"x":76,"y":-1},
{"x":75,"y":1},{"x":74,"y":0},{"x":73,"y":2},{"x":72,"y":-1},{"x":71,"y":1},{"x":70,"y":0},{"x":69,"y":-2},{"x":68,"y":1},{"x":67,"y":0},{"x":66,"y":2},
{"x":65,"y":-1},{"x":64,"y":1},{"x":63,"y":0},{"x":62,"y":2},{"x":61,"y":-1},{"x":60,"y":1},{"x":59,"y":0},{"x":58,"y":-2},{"x":57,"y":1},{"x":56,"y":0},
{"x":55,"y":2},{"x":54,"y":0},{"x":53,"y":1},{"x":52,"y":-1},{"x":51,"y":2},{"x":50,"y":0},{"x":49,"y":1},{"x":48,"y":4},{"x":47.5,"y":12},{"x":47,"y":20},
{"x":46.5,"y":25},{"x":46,"y":22},{"x":45.7,"y":18},{"x":45.3,"y":28},{"x":45,"y":34},{"x":44.6,"y":30},{"x":44.3,"y":36},{"x":44,"y":26},{"x":43.5,"y":10},{"x":43,"y":5},
{"x":42,"y":2},{"x":41,"y":3},{"x":40,"y":1},{"x":39,"y":2},{"x":38,"y":0},{"x":37,"y":2},{"x":36,"y":1},{"x":35.5,"y":7},{"x":35,"y":3},{"x":34,"y":1},
{"x":33,"y":2},{"x":32,"y":1},{"x":31,"y":2},{"x":30.5,"y":6},{"x":30,"y":14},{"x":29.5,"y":26},{"x":29,"y":33},{"x":28.5,"y":30},{"x":28,"y":22},{"x":27.7,"y":16},
{"x":27.4,"y":24},{"x":27,"y":28},{"x":26.6,"y":22},{"x":26.2,"y":12},{"x":25.8,"y":8},{"x":25,"y":3},{"x":24,"y":1},{"x":23,"y":2},{"x":22,"y":0},{"x":21,"y":1},
{"x":20,"y":-1},{"x":19,"y":2},{"x":18,"y":0},{"x":17,"y":1},{"x":16,"y":-1},{"x":15,"y":1},{"x":14,"y":0},{"x":13,"y":2},{"x":12,"y":-1},{"x":11,"y":1},
{"x":10,"y":0},{"x":9,"y":2},{"x":8,"y":-1},{"x":7,"y":0},{"x":6,"y":1},{"x":5,"y":-2},{"x":4,"y":0},{"x":3,"y":2},{"x":2,"y":-1},{"x":1,"y":0},
{"x":0,"y":1},{"x":-1,"y":-1},{"x":-2,"y":2},{"x":-3,"y":0},{"x":-4,"y":1},{"x":-5,"y":-2},{"x":-6,"y":0},{"x":-7,"y":2},{"x":-8,"y":-1},{"x":-9,"y":1},
{"x":-10,"y":0},{"x":-11,"y":2},{"x":-12,"y":-1},{"x":-13,"y":0},{"x":-14,"y":1},{"x":-15,"y":-1},{"x":-16,"y":2},{"x":-17,"y":0},{"x":-18,"y":1},{"x":-19,"y":-1},
{"x":-20,"y":1},{"x":-21,"y":0},{"x":-21.5,"y":2}
],
"s25": [
{"x":115,"y":0},{"x":114,"y":1},{"x":113,"y":-1},{"x":112,"y":0},{"x":111,"y":1},{"x":110,"y":0},{"x":109,"y":-1},{"x":108,"y":1},{"x":107,"y":0},{"x":106,"y":-1},
{"x":105,"y":0},{"x":104,"y":1},{"x":103,"y":0},{"x":102,"y":-1},{"x":101,"y":1},{"x":100,"y":0},{"x":99,"y":1},{"x":98,"y":-1},{"x":97,"y":0},{"x":96,"y":1},
{"x":95,"y":0},{"x":94,"y":-1},{"x":93,"y":1},{"x":92,"y":0},{"x":91,"y":1},{"x":90,"y":-1},{"x":89,"y":0},{"x":88,"y":1},{"x":87,"y":0},{"x":86,"y":1},
{"x":85,"y":0},{"x":84,"y":1},{"x":83,"y":2},{"x":82,"y":2},{"x":81.6,"y":3},{"x":81.3,"y":8},{"x":81.1,"y":25},{"x":80.9,"y":55},{"x":80.8,"y":72},{"x":80.7,"y":80},
{"x":80.55,"y":62},{"x":80.4,"y":25},{"x":80.2,"y":12},{"x":80,"y":14},{"x":79.85,"y":40},{"x":79.75,"y":68},{"x":79.65,"y":78},{"x":79.55,"y":58},{"x":79.4,"y":20},{"x":79.2,"y":6},
{"x":79,"y":3},{"x":78.5,"y":2},{"x":78,"y":1},{"x":77,"y":0},{"x":76,"y":1},{"x":75,"y":-1},{"x":74,"y":0},{"x":73,"y":1},{"x":72,"y":0},{"x":71,"y":-1},
{"x":70,"y":1},{"x":69,"y":0},{"x":68,"y":1},{"x":67,"y":-1},{"x":66,"y":0},{"x":65,"y":1},{"x":64,"y":0},{"x":63,"y":-1},{"x":62,"y":0},{"x":61,"y":1},
{"x":60,"y":0},{"x":59,"y":-1},{"x":58,"y":1},{"x":57,"y":0},{"x":56,"y":1},{"x":55,"y":0},{"x":54,"y":-1},{"x":53,"y":1},{"x":52,"y":0},{"x":51,"y":1},
{"x":50,"y":0},{"x":49,"y":1},{"x":48,"y":1},{"x":47.5,"y":3},{"x":47.1,"y":10},{"x":46.8,"y":19},{"x":46.4,"y":8},{"x":46.0,"y":19},{"x":45.7,"y":10},{"x":45.4,"y":7},
{"x":45.1,"y":16},{"x":44.9,"y":25},{"x":44.6,"y":14},{"x":44.4,"y":12},{"x":44.0,"y":24},{"x":43.7,"y":12},{"x":43.4,"y":4},{"x":43,"y":1},{"x":42,"y":0},{"x":41,"y":1},
{"x":40,"y":0},{"x":39,"y":1},{"x":38,"y":-1},{"x":37,"y":0},{"x":36,"y":1},{"x":35,"y":0},{"x":34,"y":1},{"x":33,"y":0},{"x":32,"y":-1},{"x":31,"y":1},
{"x":30.2,"y":1},{"x":29.8,"y":5},{"x":29.5,"y":12},{"x":29.2,"y":20},{"x":28.9,"y":27},{"x":28.5,"y":15},{"x":28.2,"y":26},{"x":27.9,"y":18},{"x":27.5,"y":6},{"x":27.2,"y":8},
{"x":26.9,"y":22},{"x":26.6,"y":17},{"x":26.3,"y":19},{"x":26.0,"y":12},{"x":25.7,"y":5},{"x":25.3,"y":2},{"x":25,"y":1},{"x":24,"y":0},{"x":23,"y":1},{"x":22,"y":0},
{"x":21,"y":-1},{"x":20,"y":0},{"x":19,"y":1},{"x":18,"y":0},{"x":17,"y":1},{"x":16,"y":-1},{"x":15,"y":0},{"x":14,"y":1},{"x":13,"y":0},{"x":12,"y":-1},
{"x":11,"y":0},{"x":10,"y":1},{"x":9,"y":0},{"x":8,"y":-1},{"x":7,"y":1},{"x":6,"y":0},{"x":5,"y":1},{"x":4,"y":-1},{"x":3,"y":0},{"x":2,"y":1},
{"x":1,"y":-1},{"x":0,"y":0},{"x":-1,"y":1},{"x":-2,"y":0},{"x":-3,"y":-1},{"x":-4,"y":1},{"x":-5,"y":0},{"x":-6,"y":1},{"x":-7,"y":0},{"x":-8,"y":-1},
{"x":-9,"y":1},{"x":-10,"y":0},{"x":-11,"y":1},{"x":-12,"y":0},{"x":-13,"y":-1},{"x":-14,"y":0},{"x":-15,"y":1},{"x":-16,"y":0},{"x":-17,"y":1},{"x":-18,"y":-1},
{"x":-19,"y":0},{"x":-20,"y":1},{"x":-21,"y":0},{"x":-21.5,"y":1}
]
},
"vconcat": [
{
"width": 1240, "height": 420,
"resolve": {"scale": {"y": "independent"}},
"layer": [
{"layer": [
{"data": {"name": "s115"}, "mark": {"type": "line", "color": "#A4009C", "strokeWidth": 1}, "encoding": {"x": {"field": "x", "type": "quantitative", "scale": {"domain": [115.4, -21.7], "nice": false, "zero": false}, "axis": null}, "y": {"field": "y", "type": "quantitative", "scale": {"domain": [-328, 92], "nice": false, "zero": false}, "axis": null}}},
{"data": {"name": "labels"}, "transform": [{"filter": "datum.s == '115'"}], "mark": {"type": "text", "font": "Liberation Serif", "fontSize": 29, "align": "left", "baseline": "alphabetic", "color": "black"}, "encoding": {"x": {"field": "x", "type": "quantitative"}, "y": {"field": "y", "type": "quantitative"}, "text": {"field": "label"}}},
{"data": {"name": "boxes"}, "transform": [{"filter": "datum.s == '115'"}], "mark": {"type": "point", "shape": "square", "filled": false, "size": 196, "color": "#A4009C", "strokeWidth": 1, "opacity": 1}, "encoding": {"x": {"field": "x", "type": "quantitative"}, "y": {"field": "y", "type": "quantitative"}}}
]},
{"layer": [
{"data": {"name": "s91"}, "mark": {"type": "line", "color": "#5A8F5A", "strokeWidth": 1}, "encoding": {"x": {"field": "x", "type": "quantitative", "scale": {"domain": [115.4, -21.7], "nice": false, "zero": false}, "axis": null}, "y": {"field": "y", "type": "quantitative", "scale": {"domain": [-223, 197], "nice": false, "zero": false}, "axis": null}}},
{"data": {"name": "labels"}, "transform": [{"filter": "datum.s == '91'"}], "mark": {"type": "text", "font": "Liberation Serif", "fontSize": 29, "align": "left", "baseline": "alphabetic", "color": "black"}, "encoding": {"x": {"field": "x", "type": "quantitative"}, "y": {"field": "y", "type": "quantitative"}, "text": {"field": "label"}}},
{"data": {"name": "boxes"}, "transform": [{"filter": "datum.s == '91'"}], "mark": {"type": "point", "shape": "square", "filled": false, "size": 196, "color": "#5A8F5A", "strokeWidth": 1, "opacity": 1}, "encoding": {"x": {"field": "x", "type": "quantitative"}, "y": {"field": "y", "type": "quantitative"}}}
]},
{"layer": [
{"data": {"name": "s86"}, "mark": {"type": "line", "color": "#FF0000", "strokeWidth": 1}, "encoding": {"x": {"field": "x", "type": "quantitative", "scale": {"domain": [115.4, -21.7], "nice": false, "zero": false}, "axis": null}, "y": {"field": "y", "type": "quantitative", "scale": {"domain": [-120, 300], "nice": false, "zero": false}, "axis": null}}},
{"data": {"name": "labels"}, "transform": [{"filter": "datum.s == '86'"}], "mark": {"type": "text", "font": "Liberation Serif", "fontSize": 29, "align": "left", "baseline": "alphabetic", "color": "black"}, "encoding": {"x": {"field": "x", "type": "quantitative"}, "y": {"field": "y", "type": "quantitative"}, "text": {"field": "label"}}},
{"data": {"name": "notes"}, "mark": {"type": "text", "font": "Liberation Serif", "fontSize": 30, "fontWeight": "bold", "align": "left", "baseline": "alphabetic", "color": "black"}, "encoding": {"x": {"field": "x", "type": "quantitative"}, "y": {"field": "y", "type": "quantitative"}, "text": {"field": "label"}}},
{"data": {"name": "boxes"}, "transform": [{"filter": "datum.s == '86'"}], "mark": {"type": "point", "shape": "square", "filled": false, "size": 196, "color": "#FF0000", "strokeWidth": 1, "opacity": 1}, "encoding": {"x": {"field": "x", "type": "quantitative"}, "y": {"field": "y", "type": "quantitative"}}}
]},
{"layer": [
{"data": {"name": "s85"}, "mark": {"type": "line", "color": "#0000FF", "strokeWidth": 1}, "encoding": {"x": {"field": "x", "type": "quantitative", "scale": {"domain": [115.4, -21.7], "nice": false, "zero": false}, "axis": null}, "y": {"field": "y", "type": "quantitative", "scale": {"domain": [-15, 405], "nice": false, "zero": false}, "axis": null}}},
{"data": {"name": "labels"}, "transform": [{"filter": "datum.s == '85'"}], "mark": {"type": "text", "font": "Liberation Serif", "fontSize": 29, "align": "left", "baseline": "alphabetic", "color": "black"}, "encoding": {"x": {"field": "x", "type": "quantitative"}, "y": {"field": "y", "type": "quantitative"}, "text": {"field": "label"}}},
{"data": {"name": "boxes"}, "transform": [{"filter": "datum.s == '85'"}], "mark": {"type": "point", "shape": "square", "filled": false, "size": 196, "color": "#0000FF", "strokeWidth": 1, "opacity": 1}, "encoding": {"x": {"field": "x", "type": "quantitative"}, "y": {"field": "y", "type": "quantitative"}}}
]}
]
},
{
"width": 1240, "height": 419,
"resolve": {"scale": {"y": "independent"}, "axis": {"x": "independent"}},
"layer": [
{"layer": [
{"data": {"name": "s84"}, "mark": {"type": "line", "color": "#1AA01A", "strokeWidth": 1}, "encoding": {"x": {"field": "x", "type": "quantitative", "scale": {"domain": [115.4, -21.7], "nice": false, "zero": false}, "axis": {"values": [115,110,105,100,95,90,85,80,75,70,65,60,55,50,45,40,35,30,25,20,15,10,5,0,-5,-10,-15,-20], "format": "d", "labelExpr": "datum.value == -20 ? '[ppm]' : (datum.value % 20 == 0 ? datum.label : '')", "labelFont": "Liberation Sans", "labelFontWeight": "bold", "labelFontSize": 13, "labelColor": "black", "labelPadding": 1, "labelOverlap": false, "labelFlush": false, "labelAlign": {"condition": {"test": "datum.value == -20", "value": "right"}, "value": "center"}, "labelOffset": {"condition": {"test": "datum.value == -20", "value": 14}, "value": 0}, "tickColor": "black", "tickSize": 6, "tickWidth": 1, "domainColor": "black", "domainWidth": 1, "grid": false, "title": null}}, "y": {"field": "y", "type": "quantitative", "scale": {"domain": [-345, 74], "nice": false, "zero": false}, "axis": null}}},
{"data": {"name": "labels"}, "transform": [{"filter": "datum.s == '84'"}], "mark": {"type": "text", "font": "Liberation Serif", "fontSize": 29, "align": "left", "baseline": "alphabetic", "color": "black"}, "encoding": {"x": {"field": "x", "type": "quantitative"}, "y": {"field": "y", "type": "quantitative"}, "text": {"field": "label"}}},
{"data": {"name": "boxes"}, "transform": [{"filter": "datum.s == '84'"}], "mark": {"type": "point", "shape": "square", "filled": false, "size": 196, "color": "#1AA01A", "strokeWidth": 1, "opacity": 1}, "encoding": {"x": {"field": "x", "type": "quantitative"}, "y": {"field": "y", "type": "quantitative"}}}
]},
{"layer": [
{"data": {"name": "s81"}, "mark": {"type": "line", "color": "#A4009C", "strokeWidth": 1}, "encoding": {"x": {"field": "x", "type": "quantitative", "scale": {"domain": [115.4, -21.7], "nice": false, "zero": false}, "axis": null}, "y": {"field": "y", "type": "quantitative", "scale": {"domain": [-261, 158], "nice": false, "zero": false}, "axis": null}}},
{"data": {"name": "labels"}, "transform": [{"filter": "datum.s == '81'"}], "mark": {"type": "text", "font": "Liberation Serif", "fontSize": 29, "align": "left", "baseline": "alphabetic", "color": "black"}, "encoding": {"x": {"field": "x", "type": "quantitative"}, "y": {"field": "y", "type": "quantitative"}, "text": {"field": "label"}}},
{"data": {"name": "boxes"}, "transform": [{"filter": "datum.s == '81'"}], "mark": {"type": "point", "shape": "square", "filled": false, "size": 196, "color": "#A4009C", "strokeWidth": 1, "opacity": 1}, "encoding": {"x": {"field": "x", "type": "quantitative"}, "y": {"field": "y", "type": "quantitative"}}}
]},
{"layer": [
{"data": {"name": "s75"}, "mark": {"type": "line", "color": "#5A8F5A", "strokeWidth": 1}, "encoding": {"x": {"field": "x", "type": "quantitative", "scale": {"domain": [115.4, -21.7], "nice": false, "zero": false}, "axis": null}, "y": {"field": "y", "type": "quantitative", "scale": {"domain": [-179, 240], "nice": false, "zero": false}, "axis": null}}},
{"data": {"name": "labels"}, "transform": [{"filter": "datum.s == '75'"}], "mark": {"type": "text", "font": "Liberation Serif", "fontSize": 29, "align": "left", "baseline": "alphabetic", "color": "black"}, "encoding": {"x": {"field": "x", "type": "quantitative"}, "y": {"field": "y", "type": "quantitative"}, "text": {"field": "label"}}},
{"data": {"name": "boxes"}, "transform": [{"filter": "datum.s == '75'"}], "mark": {"type": "point", "shape": "square", "filled": false, "size": 196, "color": "#5A8F5A", "strokeWidth": 1, "opacity": 1}, "encoding": {"x": {"field": "x", "type": "quantitative"}, "y": {"field": "y", "type": "quantitative"}}}
]},
{"layer": [
{"data": {"name": "s46"}, "mark": {"type": "line", "color": "#FF0000", "strokeWidth": 1}, "encoding": {"x": {"field": "x", "type": "quantitative", "scale": {"domain": [115.4, -21.7], "nice": false, "zero": false}, "axis": null}, "y": {"field": "y", "type": "quantitative", "scale": {"domain": [-94, 325], "nice": false, "zero": false}, "axis": null}}},
{"data": {"name": "labels"}, "transform": [{"filter": "datum.s == '46'"}], "mark": {"type": "text", "font": "Liberation Serif", "fontSize": 29, "align": "left", "baseline": "alphabetic", "color": "black"}, "encoding": {"x": {"field": "x", "type": "quantitative"}, "y": {"field": "y", "type": "quantitative"}, "text": {"field": "label"}}},
{"data": {"name": "boxes"}, "transform": [{"filter": "datum.s == '46'"}], "mark": {"type": "point", "shape": "square", "filled": false, "size": 196, "color": "#FF0000", "strokeWidth": 1, "opacity": 1}, "encoding": {"x": {"field": "x", "type": "quantitative"}, "y": {"field": "y", "type": "quantitative"}}}
]},
{"layer": [
{"data": {"name": "s25"}, "mark": {"type": "line", "color": "#0000FF", "strokeWidth": 1}, "encoding": {"x": {"field": "x", "type": "quantitative", "scale": {"domain": [115.4, -21.7], "nice": false, "zero": false}, "axis": null}, "y": {"field": "y", "type": "quantitative", "scale": {"domain": [-11, 408], "nice": false, "zero": false}, "axis": null}}},
{"data": {"name": "labels"}, "transform": [{"filter": "datum.s == '25'"}], "mark": {"type": "text", "font": "Liberation Serif", "fontSize": 29, "align": "left", "baseline": "alphabetic", "color": "black"}, "encoding": {"x": {"field": "x", "type": "quantitative"}, "y": {"field": "y", "type": "quantitative"}, "text": {"field": "label"}}},
{"data": {"name": "boxes"}, "transform": [{"filter": "datum.s == '25'"}], "mark": {"type": "point", "shape": "square", "filled": false, "size": 196, "color": "#0000FF", "strokeWidth": 1, "opacity": 1}, "encoding": {"x": {"field": "x", "type": "quantitative"}, "y": {"field": "y", "type": "quantitative"}}}
]}
]
}
]
}
